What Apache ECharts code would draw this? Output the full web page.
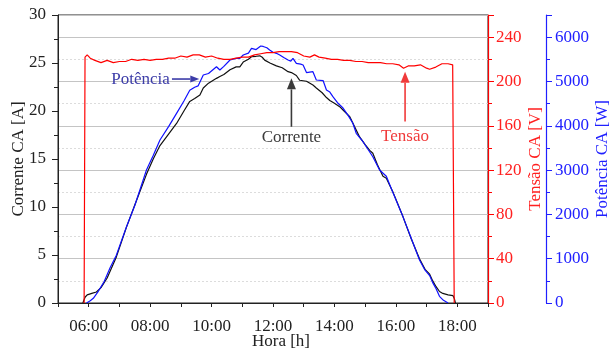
<!DOCTYPE html>
<html><head><meta charset="utf-8">
<script src="https://cdn.jsdelivr.net/npm/echarts@6/dist/echarts.min.js"></script>
<style>html,body{margin:0;padding:0;background:#fff}#c{width:610px;height:353px}</style>
</head><body><div id="c"></div>
<script>
// ---- data (hours of day, values) ----
const correnteHoras = [5.81,5.88,5.95,6.1,6.25,6.4,6.6,6.9,7.23,7.5,7.88,8.1,8.32,8.6,8.86,9.1,9.29,9.45,9.62,9.73,9.9,10.16,10.27,10.4,10.6,10.8,10.92,11.03,11.2,11.3,11.45,11.57,11.65,11.73,11.9,12.11,12.3,12.49,12.6,12.76,12.87,13.09,13.3,13.41,13.6,13.74,13.85,14.0,14.17,14.28,14.5,14.65,14.82,15.0,15.15,15.25,15.4,15.58,15.69,15.9,16.23,16.5,16.77,16.95,17.1,17.2,17.31,17.42,17.53,17.7,17.86,17.9,17.94];
const correnteA = [0,0.6,0.85,1.0,1.15,1.6,2.6,4.8,7.9,10.2,13.4,15.0,16.4,17.6,18.7,20.0,21.0,21.3,21.67,22.4,22.9,23.4,23.6,23.8,24.3,24.6,24.6,25.1,25.4,25.65,25.7,25.75,25.6,25.3,25.0,24.7,24.5,24.1,24.0,23.7,23.2,23.1,22.7,22.4,21.9,21.4,21.1,20.8,20.45,20.1,19.4,18.4,17.3,16.5,15.9,15.6,14.4,13.2,13.0,11.6,9.0,6.7,4.6,3.5,3.0,2.3,1.7,1.2,1.0,0.85,0.76,0.5,0];

const potenciaHoras = [5.93,6.05,6.15,6.3,6.5,6.7,6.9,7.23,7.5,7.88,8.1,8.32,8.6,8.86,9.1,9.29,9.45,9.56,9.73,9.9,10.16,10.27,10.4,10.6,10.8,10.92,11.03,11.2,11.3,11.45,11.6,11.68,11.8,11.89,12.0,12.11,12.22,12.35,12.49,12.58,12.65,12.76,12.9,12.98,13.09,13.3,13.41,13.63,13.74,13.85,13.95,14.1,14.28,14.45,14.6,14.71,14.93,15.25,15.47,15.69,15.9,16.23,16.5,16.77,16.95,17.1,17.2,17.31,17.42,17.55,17.7];
const potenciaW = [0,50,106,250,480,800,1080,1722,2200,3002,3330,3679,3980,4281,4560,4800,4870,4900,5146,5180,5333,5258,5340,5484,5520,5522,5597,5640,5748,5720,5800,5790,5760,5710,5660,5635,5597,5540,5484,5460,5522,5410,5390,5371,5200,5220,5033,5020,4807,4760,4656,4520,4400,4230,4056,3830,3640,3300,3002,2860,2500,1950,1460,970,740,620,460,320,150,60,0];

const tensaoHoras = [5.85,5.88,5.95,6.05,6.2,6.4,6.6,6.8,7.0,7.2,7.4,7.6,7.8,8.0,8.2,8.4,8.6,8.8,9.0,9.2,9.4,9.6,9.8,10.0,10.2,10.4,10.6,10.8,11.0,11.2,11.4,11.6,11.8,12.0,12.2,12.4,12.6,12.8,13.0,13.2,13.35,13.5,13.7,13.9,14.1,14.3,14.5,14.7,14.9,15.1,15.3,15.5,15.7,15.9,16.1,16.25,16.4,16.6,16.8,17.0,17.1,17.3,17.5,17.7,17.85,17.9];
const tensaoV = [0,222,224,221,219,217,219,217,218,218,220,219,220,219,220,220,221,221,223,222,224,224,222,223,221,220,220,221,222,222,224,225,226,226,227,227,227,226,223,222,224,222,221,220,220,219,219,218,218,217,217,217,216,216,215,212,214,214,215,212,211,213,216,216,215,0];

// x-axis ticks (hours)
const xLabelHoras = [6,8,10,12,14,16,18];
const xTickHoras = [5,6,7,8,9,10,11,12,13,14,15,16,17,18,19];

// annotations (hours, current-axis units)
const notaPotencia = {texto:'Potência', texto_xy:[8.64,23.33], de:[8.71,23.33], ate:[9.6,23.33]};
const notaCorrente = {texto:'Corrente', texto_xy:[12.6,17.26], de:[12.6,18.36], ate:[12.6,23.4]};
const notaTensao = {texto:'Tensão', texto_xy:[16.3,17.3], de:[16.3,18.9], ate:[16.3,24.1]};

const zip = (a,b)=>a.map((x,i)=>[x,b[i]]);
const FONT = 'Liberation Serif';
const chart = echarts.init(document.getElementById('c'), null, {renderer:'canvas'});

const axisLabelBase = {fontFamily: FONT, fontSize: 17};
chart.setOption({
  animation: false,
  backgroundColor: '#fff',
  grid: {left: 58, right: 122, top: 15, bottom: 50, containLabel: false, outerBoundsMode: 'none',
    show: true, borderColor: '#222', borderWidth: 1},
  xAxis: {
    type: 'value', min: 5, max: 19,
    name: 'Hora [h]', nameLocation: 'middle', nameGap: 30, nameMoveOverlap: false,
    nameTextStyle: {fontFamily: FONT, fontSize: 17, color: '#222', padding: [0,0,0,16]},
    axisLine: {lineStyle: {color: '#222', width: 1}},
    axisTick: {show: true, inside: false, length: 4, customValues: xTickHoras, lineStyle: {color: '#222'}},
    axisLabel: Object.assign({color: '#222', margin: 15, customValues: xLabelHoras,
      formatter: v => (v < 10 ? '0' : '') + v + ':00'}, axisLabelBase),
    splitLine: {show: false}
  },
  yAxis: [
    {
      type: 'value', position: 'left', min: 0, max: 30, interval: 5,
      name: 'Corrente CA [A]', nameLocation: 'middle', nameGap: 31, nameRotate: 90, nameMoveOverlap: false,
      nameTextStyle: {fontFamily: FONT, fontSize: 17, color: '#222'},
      axisLine: {show: true, lineStyle: {color: '#222'}},
      axisTick: {show: true, inside: false, length: 6, lineStyle: {color: '#222'}},
      minorTick: {show: true, splitNumber: 2, length: 4, lineStyle: {color: '#222'}},
      axisLabel: Object.assign({color: '#222', margin: 12}, axisLabelBase),
      splitLine: {show: false}
    },
    {
      type: 'value', position: 'right', min: 0, max: 260, interval: 40,
      name: 'Tensão CA [V]', nameLocation: 'middle', nameGap: 39, nameRotate: 90, nameMoveOverlap: false,
      nameTextStyle: {fontFamily: FONT, fontSize: 17, color: '#ff2020'},
      axisLine: {show: true, lineStyle: {color: '#ff0000', width: 1.2}},
      axisTick: {show: true, inside: false, length: 6, lineStyle: {color: '#ff0000'}},
      minorTick: {show: true, splitNumber: 2, length: 4, lineStyle: {color: '#ff0000'}},
      axisLabel: Object.assign({color: '#ff2020', margin: 8,
        formatter: v => v > 240 ? '' : String(v)}, axisLabelBase),
      splitLine: {show: true, lineStyle: {color: '#c4c4c4', width: 1}},
      minorSplitLine: {show: true, lineStyle: {color: '#dcdcdc', width: 1, type: [2,2]}}
    },
    {
      type: 'value', position: 'right', offset: 58, min: 0, max: 6500, interval: 1000,
      name: 'Potência CA [W]', nameLocation: 'middle', nameGap: 48, nameRotate: 90, nameMoveOverlap: false,
      nameTextStyle: {fontFamily: FONT, fontSize: 17, color: '#2020ff'},
      axisLine: {show: true, lineStyle: {color: '#2020ff', width: 1.2}},
      axisTick: {show: true, inside: false, length: 6, lineStyle: {color: '#2020ff'}},
      minorTick: {show: true, splitNumber: 2, length: 4, lineStyle: {color: '#2020ff'}},
      axisLabel: Object.assign({color: '#2020ff', margin: 9,
        formatter: v => v > 6000 ? '' : String(v)}, axisLabelBase),
      splitLine: {show: false}
    }
  ],
  series: [
    {name: 'Corrente', type: 'line', xAxisIndex: 0, yAxisIndex: 0, data: zip(correnteHoras, correnteA),
      showSymbol: false, lineStyle: {color: '#111', width: 1.2}, z: 3},
    {name: 'Potência', type: 'line', xAxisIndex: 0, yAxisIndex: 2, data: zip(potenciaHoras, potenciaW),
      showSymbol: false, lineStyle: {color: '#1010ff', width: 1.2}, z: 4},
    {name: 'Tensão', type: 'line', xAxisIndex: 0, yAxisIndex: 1, data: zip(tensaoHoras, tensaoV),
      showSymbol: false, lineStyle: {color: '#ff0000', width: 1.2}, z: 5}
  ]
});

function px(p){ return chart.convertToPixel({xAxisIndex: 0, yAxisIndex: 0}, p); }
function seta(nota, cor, textAlign, head) {
  const t = px(nota.texto_xy), a = px(nota.de), b = px(nota.ate);
  const dx = b[0]-a[0], dy = b[1]-a[1], L = Math.hypot(dx,dy), ux = dx/L, uy = dy/L;
  const hl = head[0], hw = head[1];
  const bx = b[0]-ux*hl, by = b[1]-uy*hl;
  return [
    {type: 'text', x: t[0], y: t[1], z: 100, style: {text: nota.texto, fill: cor, font: '17px "' + FONT + '"', align: textAlign, verticalAlign: 'middle'}},
    {type: 'line', z: 100, shape: {x1: a[0], y1: a[1], x2: bx, y2: by}, style: {stroke: cor, lineWidth: 1.6}},
    {type: 'polygon', z: 100, shape: {points: [[b[0],b[1]],[bx - uy*hw, by + ux*hw],[bx + uy*hw, by - ux*hw]]}, style: {fill: cor}}
  ];
}
chart.setOption({graphic: [].concat(
  seta(notaPotencia, '#3c3ca8', 'right', [9,3.5]),
  seta(notaCorrente, '#3a3a3a', 'center', [11,4.5]),
  seta(notaTensao, '#f03a3a', 'center', [11,4.5])
)});
</script></body></html>
